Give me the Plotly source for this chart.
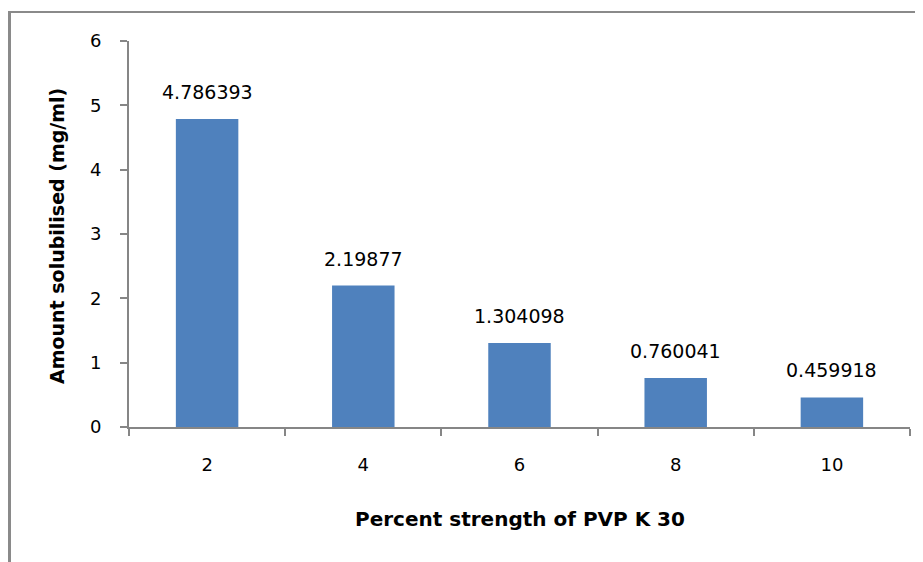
import plotly.graph_objects as go

categories = ["2", "4", "6", "8", "10"]
values = [4.786393, 2.19877, 1.304098, 0.760041, 0.459918]
value_labels = ["4.786393", "2.19877", "1.304098", "0.760041", "0.459918"]
y_ticks = [0, 1, 2, 3, 4, 5, 6]
x_title = "Percent strength of PVP K 30"
y_title = "Amount solubilised (mg/ml)"

# page body has an 8px margin: work in screen pixels and subtract it
OFF = 8
W, H = 923 - OFF, 562 - OFF
L = 129 - OFF
T = 41 - OFF
PB = 427 - OFF          # plot bottom in figure px
PR = 910 - OFF          # plot right in figure px
R = W - PR
B = H - PB
pw, ph = PR - L, PB - T

def px_x(sx):
    return (sx - OFF - L) / pw

def px_y(sy):
    return (PB - (sy - OFF)) / ph

axis_color = "#868686"
font_fam = "DejaVu Sans"

fig = go.Figure(go.Bar(
    x=categories, y=values,
    marker=dict(color="#4F81BD", line=dict(width=0)),
    width=0.4,
))

annotations = []
for i, (v, t) in enumerate(zip(values, value_labels)):
    annotations.append(dict(
        x=i, y=v, xref="x", yref="y", text=t, showarrow=False,
        xanchor="center", yanchor="middle", yshift=27,
        font=dict(family=font_fam, size=19, color="#000000"),
    ))
annotations.append(dict(
    x=0.5, y=px_y(519), xref="paper", yref="paper", text="<b>" + x_title + "</b>",
    showarrow=False, xanchor="center", yanchor="middle",
    font=dict(family=font_fam, size=20, color="#000000"),
))
annotations.append(dict(
    x=px_x(57), y=px_y(236), xref="paper", yref="paper", text="<b>" + y_title + "</b>",
    showarrow=False, xanchor="center", yanchor="middle", textangle=-90,
    font=dict(family=font_fam, size=19, color="#000000"),
))

fig.update_layout(
    width=W, height=H,
    margin=dict(l=L, r=R, t=T, b=B, autoexpand=False),
    paper_bgcolor="white", plot_bgcolor="white",
    showlegend=False,
    font=dict(family=font_fam, color="#000000"),
    xaxis=dict(
        type="category", automargin=False,
        categoryorder="array", categoryarray=categories,
        range=[-0.5, len(categories) - 0.5],
        showline=True, linecolor=axis_color, linewidth=2,
        ticks="outside", tickson="boundaries", ticklen=7, tickcolor=axis_color, tickwidth=2,
        tickfont=dict(size=18), ticklabelstandoff=20,
        showgrid=False, zeroline=False,
    ),
    yaxis=dict(
        range=[0, 6], tickvals=y_ticks, automargin=False,
        showline=True, linecolor=axis_color, linewidth=2,
        ticks="outside", ticklen=7, tickcolor=axis_color, tickwidth=2,
        tickfont=dict(size=18), ticklabelstandoff=15,
        showgrid=False, zeroline=False,
    ),
    annotations=annotations,
    shapes=[
        dict(type="line", xref="paper", yref="paper",
             x0=px_x(9.5), x1=px_x(9.5), y0=px_y(12), y1=px_y(575),
             line=dict(color="#8a8a8a", width=3)),
        dict(type="line", xref="paper", yref="paper",
             x0=px_x(8), x1=px_x(935), y0=px_y(12), y1=px_y(12),
             line=dict(color="#8a8a8a", width=2)),
    ],
)

fig.write_html("out.html")
